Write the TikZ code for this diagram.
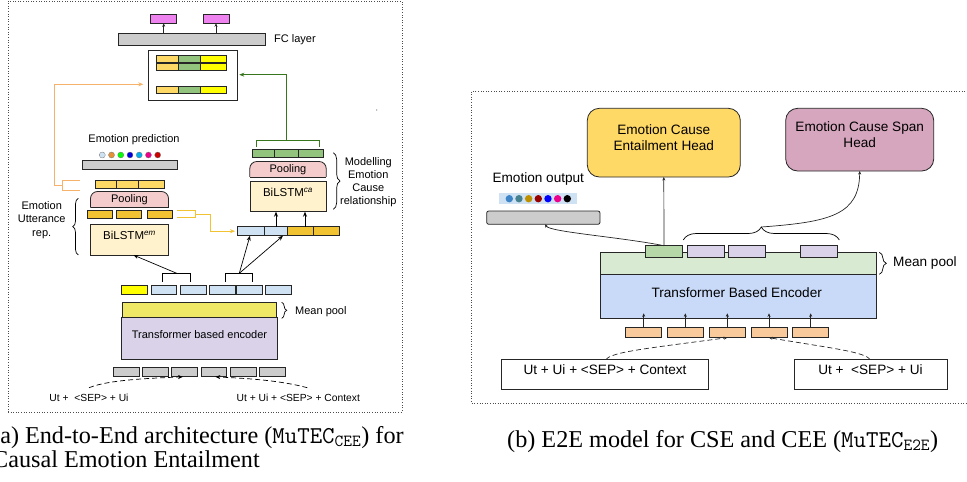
\documentclass[tikz,border=0pt]{standalone}
\usepackage{fontspec}
\setmainfont{Liberation Serif}
\setsansfont{Liberation Sans}
\usetikzlibrary{fit,decorations.pathreplacing,arrows.meta}
\definecolor{violetA}{HTML}{EE82EE}
\definecolor{barG}{HTML}{CCCCCC}
\definecolor{catO}{HTML}{FFD966}
\definecolor{catG}{HTML}{93C47D}
\definecolor{catY}{HTML}{FFFF00}
\definecolor{goldA}{HTML}{F1C232}
\definecolor{poolP}{HTML}{F4CCCC}
\definecolor{lstm}{HTML}{FFF2CC}
\definecolor{blueL}{HTML}{CFE2F3}
\definecolor{encY}{HTML}{EEE866}
\definecolor{encP}{HTML}{D9D2E9}
\definecolor{arrO}{HTML}{F6B26B}
\definecolor{arrG}{HTML}{38761D}
\definecolor{headY}{HTML}{FFD966}
\definecolor{headP}{HTML}{D5A6BD}
\definecolor{gB}{HTML}{B6D7A8}
\definecolor{bandG}{HTML}{D9EAD3}
\definecolor{encB}{HTML}{C9DAF8}
\definecolor{tokO}{HTML}{F9CB9C}
\definecolor{dotO}{HTML}{E69138}
\definecolor{dB1}{HTML}{3D85C6}
\definecolor{dB2}{HTML}{45818E}
\definecolor{dB3}{HTML}{BF9000}
\definecolor{dB4}{HTML}{990000}

\begin{document}
\begin{tikzpicture}[x=1pt,y=-1pt,
    box/.style = {draw=black!85, line width=0.8pt, inner sep=0pt, outer sep=0pt},
    lab/.style = {font=\sffamily\fontsize{11}{13.2}\selectfont, inner sep=1pt, align=center},
    labB/.style = {font=\sffamily\fontsize{13.6}{16}\selectfont, inner sep=1pt, align=center},
    captxt/.style = {font=\fontsize{24.2}{24}\selectfont, inner sep=0pt, anchor=base west},
    arr/.style = {-{Stealth[length=5pt,width=4pt]}, line width=0.7pt},
    arrS/.style = {-{Stealth[length=3.5pt,width=3pt]}, line width=0.7pt, draw=black!85},
    brc/.style = {decorate, decoration={brace, amplitude=#1}, line width=0.7pt},
    frame/.style = {draw=black!70, dash pattern=on 1pt off 1.6pt, line width=1pt, inner sep=0pt}
  ]
  \useasboundingbox (0,0) rectangle (967,482);
  \clip (0,0) rectangle (967,482);

  % ---------------- (a) MuTEC_CEE ----------------
  \node[frame, fit={(8,1) (402,412)}] (frameA) {};
  \foreach \x [count=\i] in {150.7,203}{ % output boxes
      \node[box, fill=violetA, fit={(\x,14) (\x+26,23.3)}] (outA-\i) {};
    }
  \node[box, fill=barG, fit={(118,33.3) (265,45)}] (fc) {};
  \node[lab, anchor=west] (fcl) at (273,39.5) {FC layer};
  \foreach \i in {1,2}
    \draw[arrS] (fc.north -| outA-\i) -- (outA-\i.south);

  \node[box, fill=white, fit={(148,50.7) (237.7,100)}] (cat) {};
  \foreach \ya/\yb [count=\r] in {55.7/62.3, 63/70.7, 86.7/93.3}{ % concatenated rows
      \foreach \xa/\xb/\c [count=\k] in {156/178.3/catO, 178.3/200.3/catG, 200.3/226/catY}{
          \node[box, fill=\c, fit={(\xa,\ya) (\xb,\yb)}] (cat-\r-\k) {};
        }
    }

  % emotion branch
  \node[lab] (epl) at (134,140) {Emotion prediction};
  \foreach \c [count=\i] in {blueL,dotO,green,blue!85!black,cyan,magenta,red!80!black}
    \node[circle, fill=\c, draw=black!55, line width=0.3pt, inner sep=0pt, minimum size=6]
      (dotA-\i) at (102.3+9.23*\i-9.23,155) {};
  \node[box, fill=barG, fit={(82.3,160.7) (177.3,169.3)}] (epbar) {};
  \foreach \xa/\xb [count=\i] in {95/116, 116/138.3, 138.3/164}
    \node[box, fill=catO, fit={(\xa,180) (\xb,188.3)}] (pvA-\i) {};
  \node[inner sep=0pt, fit={(90.7,191.7) (168.3,207.3)}] (plA) {};
  \foreach \xa [count=\i] in {87.3,116,147.3}
    \node[box, fill=goldA, fit={(\xa,210.7) (\xa+25.4,218.3)}] (hA-\i) {};
  \node[box, fill=lstm, font=\sffamily\fontsize{11.5}{13}\selectfont,
    fit={(90.7,224) (168.3,255)}] (lstmA) {BiLSTM\textsuperscript{\itshape em}};
  \draw[brc=5.6] (78.3,255) -- (78.3,198.3);
  \node[lab] (eur) at (41.7,220) {Emotion\\Utterance\\rep.};

  % cause branch
  \foreach \xa/\xb/\c [count=\i] in {237.7/264/blueL, 264/287.3/blueL, 287.3/313.3/goldA, 313.3/339/goldA}
    \node[box, fill=\c, fit={(\xa,226.7) (\xb,235.7)}] (vecR-\i) {};
  \node[box, fill=lstm, font=\sffamily\fontsize{11.5}{13}\selectfont,
    fit={(250,181.7) (326,211.7)}] (lstmB) {BiLSTM\textsuperscript{\itshape ca}};
  \node[inner sep=0pt, fit={(250,161.7) (326,176.7)}] (plB) {};
  \foreach \xa/\xb [count=\i] in {252.7/274.3, 274.3/298.3, 298.3/323.3}
    \node[box, fill=catG, fit={(\xa,149.3) (\xb,157.7)}] (gvB-\i) {};
  \draw[brc=6.7] (333.3,152.7) -- (333.3,209.3);
  \node[lab, font=\sffamily\fontsize{11}{13}\selectfont] (mecr) at (368.3,182) {Modelling\\Emotion\\Cause\\relationship};
  \foreach \x in {276,305}
    \draw[arr] (\x,226.7) -- (lstmB.south -| \x,0);

  \foreach \p in {plA,plB}{ % pooling blocks, round top only
      \filldraw[fill=poolP, draw=black!85, line width=0.8pt, rounded corners=7]
        (\p.south west) -- (\p.north west) -- (\p.north east) -- (\p.south east);
      \draw[black!85, line width=0.8pt] (\p.south west) -- (\p.south east);
      \node[lab] (\p-t) at (\p) {Pooling};
    }

  % connectors to the concatenation box
  \draw[arrO, line width=0.8pt] (80,180) -| (62.3,190) -- (80,190);
  \draw[arrO, arr, shorten >=4.7pt] (62.3,185) -- (54,185) |- (cat.west |- 0,84.3);
  \draw[arrG, line width=0.8pt] (256.7,146.7) |- (319,140) -- (319,146.7);
  \draw[arrG, arr, shorten >=1.6pt] (286.7,140) |- (cat.east |- 0,74.7);
  \draw[goldA, line width=0.8pt] (176.7,210) -| (195,217.7) -- (176.7,217.7);
  \draw[goldA, arr, shorten >=2.7pt] (195,214) -- (210,214) |- (vecR-1.west);

  % encoder
  \foreach \xa/\xb/\c [count=\i] in {121.7/147.3/catY, 151/176.7/blueL, 180.3/206/blueL,
      209.3/235.3/blueL, 236.7/262.7/blueL, 265.7/291.7/blueL}
    \node[box, fill=\c, fit={(\xa,285.7) (\xb,294.3)}] (tokA-\i) {};
  \draw[line width=0.8pt] (162.3,281.7) |- (190,273.3) -- (190,281.7);
  \draw[arr] (176.7,273.3) -- (lstmA.south -| 133.3,0);
  \draw[line width=0.8pt] (225.7,281.7) |- (252.3,273.3) -- (252.3,281.7);
  \draw[arr] (239.3,273.3) -- (vecR-1.south -| 250,0);
  \draw[arr] (239.3,273.3) -- (vecR-2.south -| 283,0);
  \node[box, fill=encY, fit={(122.3,302.3) (276.7,318.3)}] (mpA) {};
  \node[box, fill=encP, lab, fit={(122.3,318.3) (276.7,358.3)}] (encA) {Transformer based encoder};
  \draw[brc=5] (281.7,302.3) -- (281.7,318.3);
  \node[lab, anchor=west] (mplA) at (294,311.7) {Mean pool};
  \foreach \xa [count=\i] in {113.3,142.7,171.7,201,230.7,259.3}
    \node[box, fill=barG, fit={(\xa,367.7) (\xa+25.6,376.7)}] (gA-\i) {};
  \node[lab, font=\sffamily\fontsize{10.3}{12}\selectfont] (inA-1) at (89,397.7) {Ut +\ \ <SEP> + Ui};
  \node[lab, font=\sffamily\fontsize{10.3}{12}\selectfont] (inA-2) at (298.3,397.7) {Ut + Ui + <SEP> + Context};
  \draw[arr, dash pattern=on 5pt off 3pt, shorten >=1.5pt] ([yshift=5pt]inA-1.north)
    .. controls (110,379) and (160,378) .. (gA-3.south);
  \draw[arr, dash pattern=on 5pt off 3pt, shorten >=1.5pt] ([xshift=9pt,yshift=5pt]inA-2.north)
    .. controls (275,379) and (235,378) .. (gA-4.south);
  \node[circle, fill=black!60, inner sep=0pt, minimum size=1.3] (spk) at (376.7,110) {};

  \node[captxt] (capA-1) at (-8,443) {(a)\ End-to-End architecture (\texttt{MuTEC}\textsubscript{\texttt{CEE}}) for};
  \node[captxt] (capA-2) at (-8,467) {Causal Emotion Entailment};

  % ---------------- (b) MuTEC_E2E ----------------
  \node[frame, fit={(471.7,91) (990,403.3)}] (frameB) {};
  \node[box, fill=headY, rounded corners=12, labB, fit={(588.3,109.3) (739.3,176)}] (headE) {Emotion Cause\\Entailment Head};
  \node[box, fill=headP, rounded corners=12, labB, fit={(786.7,109.3) (932.7,170)}] (headS) {Emotion Cause Span\\Head};

  \node[labB] (eol) at (538.3,179.3) {Emotion output};
  \node[fill=blueL, inner sep=0pt, fit={(499.3,193.3) (576.7,204)}] (strip) {};
  \foreach \c [count=\i] in {dB1,dB2,dB3,dB4,blue,magenta,black}
    \node[circle, fill=\c, inner sep=0pt, minimum size=7.4] (dotB-\i) at (509.3+9.67*\i-9.67,198.7) {};
  \node[box, fill=barG, rounded corners=2, fit={(486.7,211) (600,224.3)}] (eobar) {};

  \node[box, fill=bandG, fit={(600,252.3) (876,274.3)}] (mpB) {};
  \node[box, fill=encB, fit={(600,274.3) (876,318.3)}] (encB) {};
  \node[labB] (encB-t) at (736.7,292.3) {Transformer Based Encoder};
  \node[box, fill=gB, fit={(645.7,245.7) (682.3,257.3)}] (hB-1) {};
  \foreach \xa [count=\i from 2] in {687.3,728.3,800.7}
    \node[box, fill=encP, fit={(\xa,245.7) (\xa+36.6,257.3)}] (hB-\i) {};
  \draw[brc=7] (879.3,252.3) -- (879.3,274.3);
  \node[labB, anchor=west] (mplB) at (892,263.3) {Mean pool};

  \foreach \xa [count=\i] in {625.7,667.3,709.3,751,792.7}{ % input tokens
      \node[box, fill=tokO, fit={(\xa,327.3) (\xa+36,337.7)}] (tB-\i) {};
      \draw[arrS] (tB-\i.north) -- ++(0,-14);
    }
  \node[box, fill=white, labB, fit={(502.3,360.7) (707.7,388.3)}] (inB-1) {Ut + Ui + <SEP> + Context};
  \node[box, fill=white, labB, fit={(795,360.7) (946,388.3)}] (inB-2) {Ut +\ \ <SEP> + Ui};
  \draw[arrS, dash pattern=on 5pt off 3pt] (inB-1.north -| 606,0)
    .. controls (610,352) and (650,348) .. (tB-3.south);
  \draw[arrS, dash pattern=on 5pt off 3pt] (inB-2.north -| 870,0)
    .. controls (866,352) and (830,348) .. (tB-4.south);

  \draw[arrS] (hB-1.north) -- (headE.south);
  \draw[arrS] (hB-1.north) .. controls (620,237) and (550,232) .. (eobar.south -| 545,0);
  \draw[brc=13] (683.3,240) -- (839.3,240);
  \coordinate (tipB) at (761.3,227);
  \draw[arrS] (tipB) .. controls (830,222) and (859.3,215) .. (headS.south);

  \node[captxt] (capB) at (507,447) {(b)\ E2E model for CSE and CEE (\texttt{MuTEC}\textsubscript{\texttt{E2E}})};
\end{tikzpicture}
\end{document}
